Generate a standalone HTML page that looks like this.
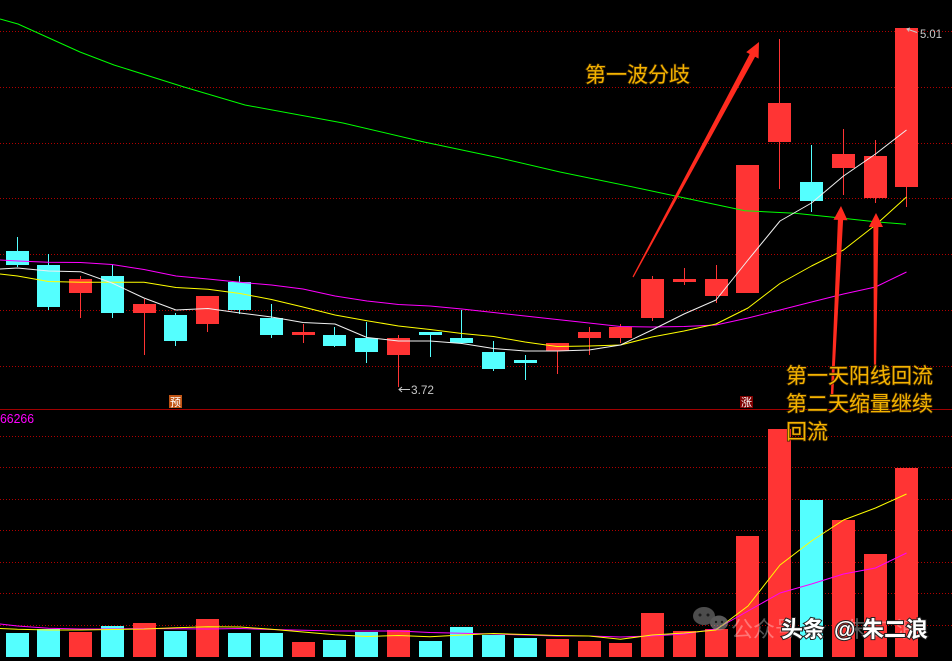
<!DOCTYPE html>
<html><head><meta charset="utf-8">
<style>
html,body{margin:0;padding:0;background:#000;}
svg{display:block;}
.cj{font-family:"Liberation Sans","Noto Sans CJK SC",sans-serif;}
</style></head>
<body>
<svg width="952" height="661" viewBox="0 0 952 661" xmlns="http://www.w3.org/2000/svg">
<rect width="952" height="661" fill="#000"/>
<!-- grid -->
<g stroke="#b00000" stroke-width="1" stroke-dasharray="1 2" shape-rendering="crispEdges">
<line x1="0" y1="31.5" x2="952" y2="31.5"/>
<line x1="0" y1="87.5" x2="952" y2="87.5"/>
<line x1="0" y1="143.5" x2="952" y2="143.5"/>
<line x1="0" y1="198.5" x2="952" y2="198.5"/>
<line x1="0" y1="254.5" x2="952" y2="254.5"/>
<line x1="0" y1="310.5" x2="952" y2="310.5"/>
<line x1="0" y1="366.5" x2="952" y2="366.5"/>
<line x1="0" y1="436.5" x2="952" y2="436.5"/>
<line x1="0" y1="467.5" x2="952" y2="467.5"/>
<line x1="0" y1="499.5" x2="952" y2="499.5"/>
<line x1="0" y1="530.5" x2="952" y2="530.5"/>
<line x1="0" y1="562.5" x2="952" y2="562.5"/>
<line x1="0" y1="593.5" x2="952" y2="593.5"/>
<line x1="0" y1="625.5" x2="952" y2="625.5"/>
</g>
<line x1="0" y1="409.5" x2="952" y2="409.5" stroke="#a00000" stroke-width="1" shape-rendering="crispEdges"/>

<!-- candles -->
<g shape-rendering="crispEdges">
<g fill="#54ffff">
<rect x="17" y="237" width="1" height="30"/><rect x="6" y="251" width="23" height="14"/>
<rect x="48" y="254" width="1" height="56"/><rect x="37" y="265" width="23" height="42"/>
<rect x="112" y="265" width="1" height="53"/><rect x="101" y="276" width="23" height="37"/>
<rect x="175" y="313" width="1" height="33"/><rect x="164" y="315" width="23" height="26"/>
<rect x="239" y="276" width="1" height="38"/><rect x="228" y="282" width="23" height="28"/>
<rect x="271" y="304" width="1" height="34"/><rect x="260" y="318" width="23" height="17"/>
<rect x="334" y="327" width="1" height="20"/><rect x="323" y="335" width="23" height="11"/>
<rect x="366" y="322" width="1" height="41"/><rect x="355" y="338" width="23" height="14"/>
<rect x="430" y="332" width="1" height="25"/><rect x="419" y="332" width="23" height="3"/>
<rect x="461" y="310" width="1" height="34"/><rect x="450" y="338" width="23" height="5"/>
<rect x="493" y="341" width="1" height="30"/><rect x="482" y="352" width="23" height="17"/>
<rect x="525" y="355" width="1" height="25"/><rect x="514" y="360" width="23" height="3"/>
<rect x="811" y="145" width="1" height="67"/><rect x="800" y="182" width="23" height="19"/>
</g>
<g fill="#ff3434">
<rect x="80" y="276" width="1" height="42"/><rect x="69" y="279" width="23" height="14"/>
<rect x="144" y="299" width="1" height="56"/><rect x="133" y="304" width="23" height="9"/>
<rect x="207" y="296" width="1" height="36"/><rect x="196" y="296" width="23" height="28"/>
<rect x="303" y="324" width="1" height="19"/><rect x="292" y="332" width="23" height="3"/>
<rect x="398" y="335" width="1" height="52"/><rect x="387" y="338" width="23" height="17"/>
<rect x="557" y="343" width="1" height="31"/><rect x="546" y="343" width="23" height="8"/>
<rect x="589" y="327" width="1" height="28"/><rect x="578" y="332" width="23" height="6"/>
<rect x="620" y="324" width="1" height="19"/><rect x="609" y="327" width="23" height="11"/>
<rect x="652" y="276" width="1" height="45"/><rect x="641" y="279" width="23" height="39"/>
<rect x="684" y="268" width="1" height="17"/><rect x="673" y="279" width="23" height="3"/>
<rect x="716" y="265" width="1" height="38"/><rect x="705" y="279" width="23" height="17"/>
<rect x="736" y="165" width="23" height="128"/>
<rect x="779" y="39" width="1" height="150"/><rect x="768" y="103" width="23" height="39"/>
<rect x="843" y="129" width="1" height="66"/><rect x="832" y="154" width="23" height="14"/>
<rect x="875" y="140" width="1" height="63"/><rect x="864" y="156" width="23" height="42"/>
<rect x="906" y="28" width="1" height="179"/><rect x="895" y="28" width="23" height="159"/>
</g>
</g>

<!-- price MAs -->
<g fill="none" stroke-width="1" stroke-linejoin="round">
<polyline stroke="#00ff00" points="0,19 18,24 49,38 80,52 114,65 184,87 245,105 343,123 424,142 500,158 560,172 640,188.5 680,197 745,210.7 795,213.3 843,218.3 875,221.7 906,224.3"/>
<polyline stroke="#ff00ff" points="0,260 17.5,261 48.5,262.3 80.5,262.5 112,264.5 144,269.5 176,276 208,279 240,282.3 271.5,285 303,289 335,296 367,301 398.5,304.5 430,306 462,309 493.5,312.5 525,316 557,319.5 589,323 620.5,326.5 652,327 684,326.5 716,325 748,318 780,310 811.5,302 843.5,294 875.5,287 906.5,272"/>
<polyline stroke="#ffff00" points="0,274 17.5,276 48.5,281.5 80.5,282.3 112,282.3 144,282.3 176,287.5 208,289.3 240,293.5 271.5,299.5 303,307 335,315 367,320.7 398.5,326 430,329.5 462,333.5 493.5,336.5 525,342 557,346.5 589,346 620.5,345 652,337 684,331 716,324 748,308 780,283.5 811.5,266 843.5,250 875.5,225 906.5,197"/>
<polyline stroke="#f0f0f0" points="0,269 17.5,268 48.5,271 80.5,271.7 112,283 144,298 176,310 208,308.5 240,313 271.5,317 303,322.5 335,324 367,337.5 398.5,341 430,341 462,343.5 493.5,348.5 525,351 557,351 589,350 620.5,345 652,330 684,314 716,300 748,260 780,221 811.5,203 843.5,176 875.5,154 906.5,130"/>
</g>

<!-- volume bars -->
<g shape-rendering="crispEdges">
<g fill="#54ffff">
<rect x="6" y="633" width="23" height="24"/>
<rect x="37" y="629" width="23" height="28"/>
<rect x="101" y="626" width="23" height="31"/>
<rect x="164" y="631" width="23" height="26"/>
<rect x="228" y="633" width="23" height="24"/>
<rect x="260" y="633" width="23" height="24"/>
<rect x="323" y="640" width="23" height="17"/>
<rect x="355" y="632" width="23" height="25"/>
<rect x="419" y="641" width="23" height="16"/>
<rect x="450" y="627" width="23" height="30"/>
<rect x="482" y="635" width="23" height="22"/>
<rect x="514" y="638" width="23" height="19"/>
<rect x="800" y="500" width="23" height="157"/>
</g>
<g fill="#ff3434">
<rect x="69" y="632" width="23" height="25"/>
<rect x="133" y="623" width="23" height="34"/>
<rect x="196" y="619" width="23" height="38"/>
<rect x="292" y="642" width="23" height="15"/>
<rect x="387" y="630" width="23" height="27"/>
<rect x="546" y="639" width="23" height="18"/>
<rect x="578" y="641" width="23" height="16"/>
<rect x="609" y="643" width="23" height="14"/>
<rect x="641" y="613" width="23" height="44"/>
<rect x="673" y="631" width="23" height="26"/>
<rect x="705" y="629" width="23" height="28"/>
<rect x="736" y="536" width="23" height="121"/>
<rect x="768" y="429" width="23" height="228"/>
<rect x="832" y="520" width="23" height="137"/>
<rect x="864" y="554" width="23" height="103"/>
<rect x="895" y="468" width="23" height="189"/>
</g>
</g>

<!-- volume MAs -->
<g fill="none" stroke-width="1" stroke-linejoin="round">
<polyline stroke="#ff00ff" points="0,624 17.5,626 48.5,628.3 80.5,629 112,629 144,628.5 176,628.7 208,629 240,628.5 271.5,629.5 303,630.3 335,631 367,631 398.5,631 430,632.5 462,633.3 493.5,634 525,635 557,636 589,636 620.5,637 652,636 684,634 716,629 748,611 780,593 811.5,584 843.5,574 875.5,568 906.5,553"/>
<polyline stroke="#ffff00" points="0,628.5 17.5,629.3 48.5,630 80.5,630 112,629.5 144,629 176,627.7 208,626.7 240,627 271.5,629.3 303,632 335,634.8 367,636.5 398.5,635.5 430,636.7 462,635 493.5,633.5 525,634.5 557,635.5 589,636 620.5,639.3 652,635 684,633 716,630 748,606 780,565 811.5,541 843.5,520 875.5,508 906.5,494"/>
</g>

<!-- arrows -->
<g fill="#ff2b1f">
<polygon points="632.5,276.6 749.7,54.0 746.2,52.1 759,42 758.6,58.6 755.1,56.7 633.5,277.4"/>
<polygon points="830.8,396 837.9,219.9 833.5,219.7 841,206 847.5,220.3 843.1,220.1 833.2,396"/>
<polygon points="873.9,366 873.4,227 868.8,227 876,213 883,227 878.4,227 876.1,366"/>
</g>

<!-- price labels -->
<g stroke="#c8c8c8" stroke-width="1" fill="none">
<line x1="399" y1="389.5" x2="410" y2="389.5"/>
<polyline points="402,387 399,389.5 402,392"/>
<line x1="907" y1="29" x2="917" y2="32.5"/>
<polyline points="910,28 907,29 909,31.5"/>
</g>
<text x="411" y="394" font-family="Liberation Sans, sans-serif" font-size="12" fill="#c8c8c8" textLength="23" lengthAdjust="spacingAndGlyphs">3.72</text>
<text x="920" y="38" font-family="Liberation Sans, sans-serif" font-size="12" fill="#c8c8c8" textLength="22" lengthAdjust="spacingAndGlyphs">5.01</text>

<!-- badges -->
<rect x="169" y="395" width="13" height="13" fill="#c05414"/>
<text x="175.5" y="406" class="cj" font-size="11" fill="#fff" text-anchor="middle">预</text>
<rect x="740" y="396" width="13" height="12" fill="#7e0000"/>
<text x="746.5" y="406" class="cj" font-size="11" fill="#fff" text-anchor="middle">涨</text>

<text x="0" y="423" font-family="Liberation Sans, sans-serif" font-size="12.5" fill="#ff00ff" textLength="34" lengthAdjust="spacingAndGlyphs">66266</text>

<!-- annotations -->
<g class="cj" font-size="21" fill="#f4b300" stroke="#3c2500" stroke-width="1.5" paint-order="stroke">
<text x="585" y="82">第一波分歧</text>
<text x="786" y="383">第一天阳线回流</text>
<text x="786" y="411">第二天缩量继续</text>
<text x="786" y="439">回流</text>
</g>

<!-- watermark -->
<g opacity="0.55">
<ellipse cx="704" cy="616" rx="11" ry="9" fill="#8a8a8a"/>
<ellipse cx="719" cy="623" rx="9" ry="7.5" fill="#a0a0a0"/>
<circle cx="700" cy="615" r="1.5" fill="#333"/><circle cx="708" cy="615" r="1.5" fill="#333"/>
<circle cx="716" cy="622" r="1.2" fill="#333"/><circle cx="722" cy="622" r="1.2" fill="#333"/>
</g>
<g class="cj" font-size="22" fill="rgba(255,255,255,0.33)">
<text x="731" y="637">公众号</text>
<text x="846" y="637" letter-spacing="3">朱二浪</text>
</g>
<g class="cj" font-size="22" font-weight="bold" fill="#ffffff" stroke="#222" stroke-width="2" paint-order="stroke">
<text x="781" y="637">头条</text>
<text x="834" y="637" font-family="Liberation Sans, sans-serif">@</text>
<text x="862" y="637">朱二浪</text>
</g>
</svg>
</body></html>
